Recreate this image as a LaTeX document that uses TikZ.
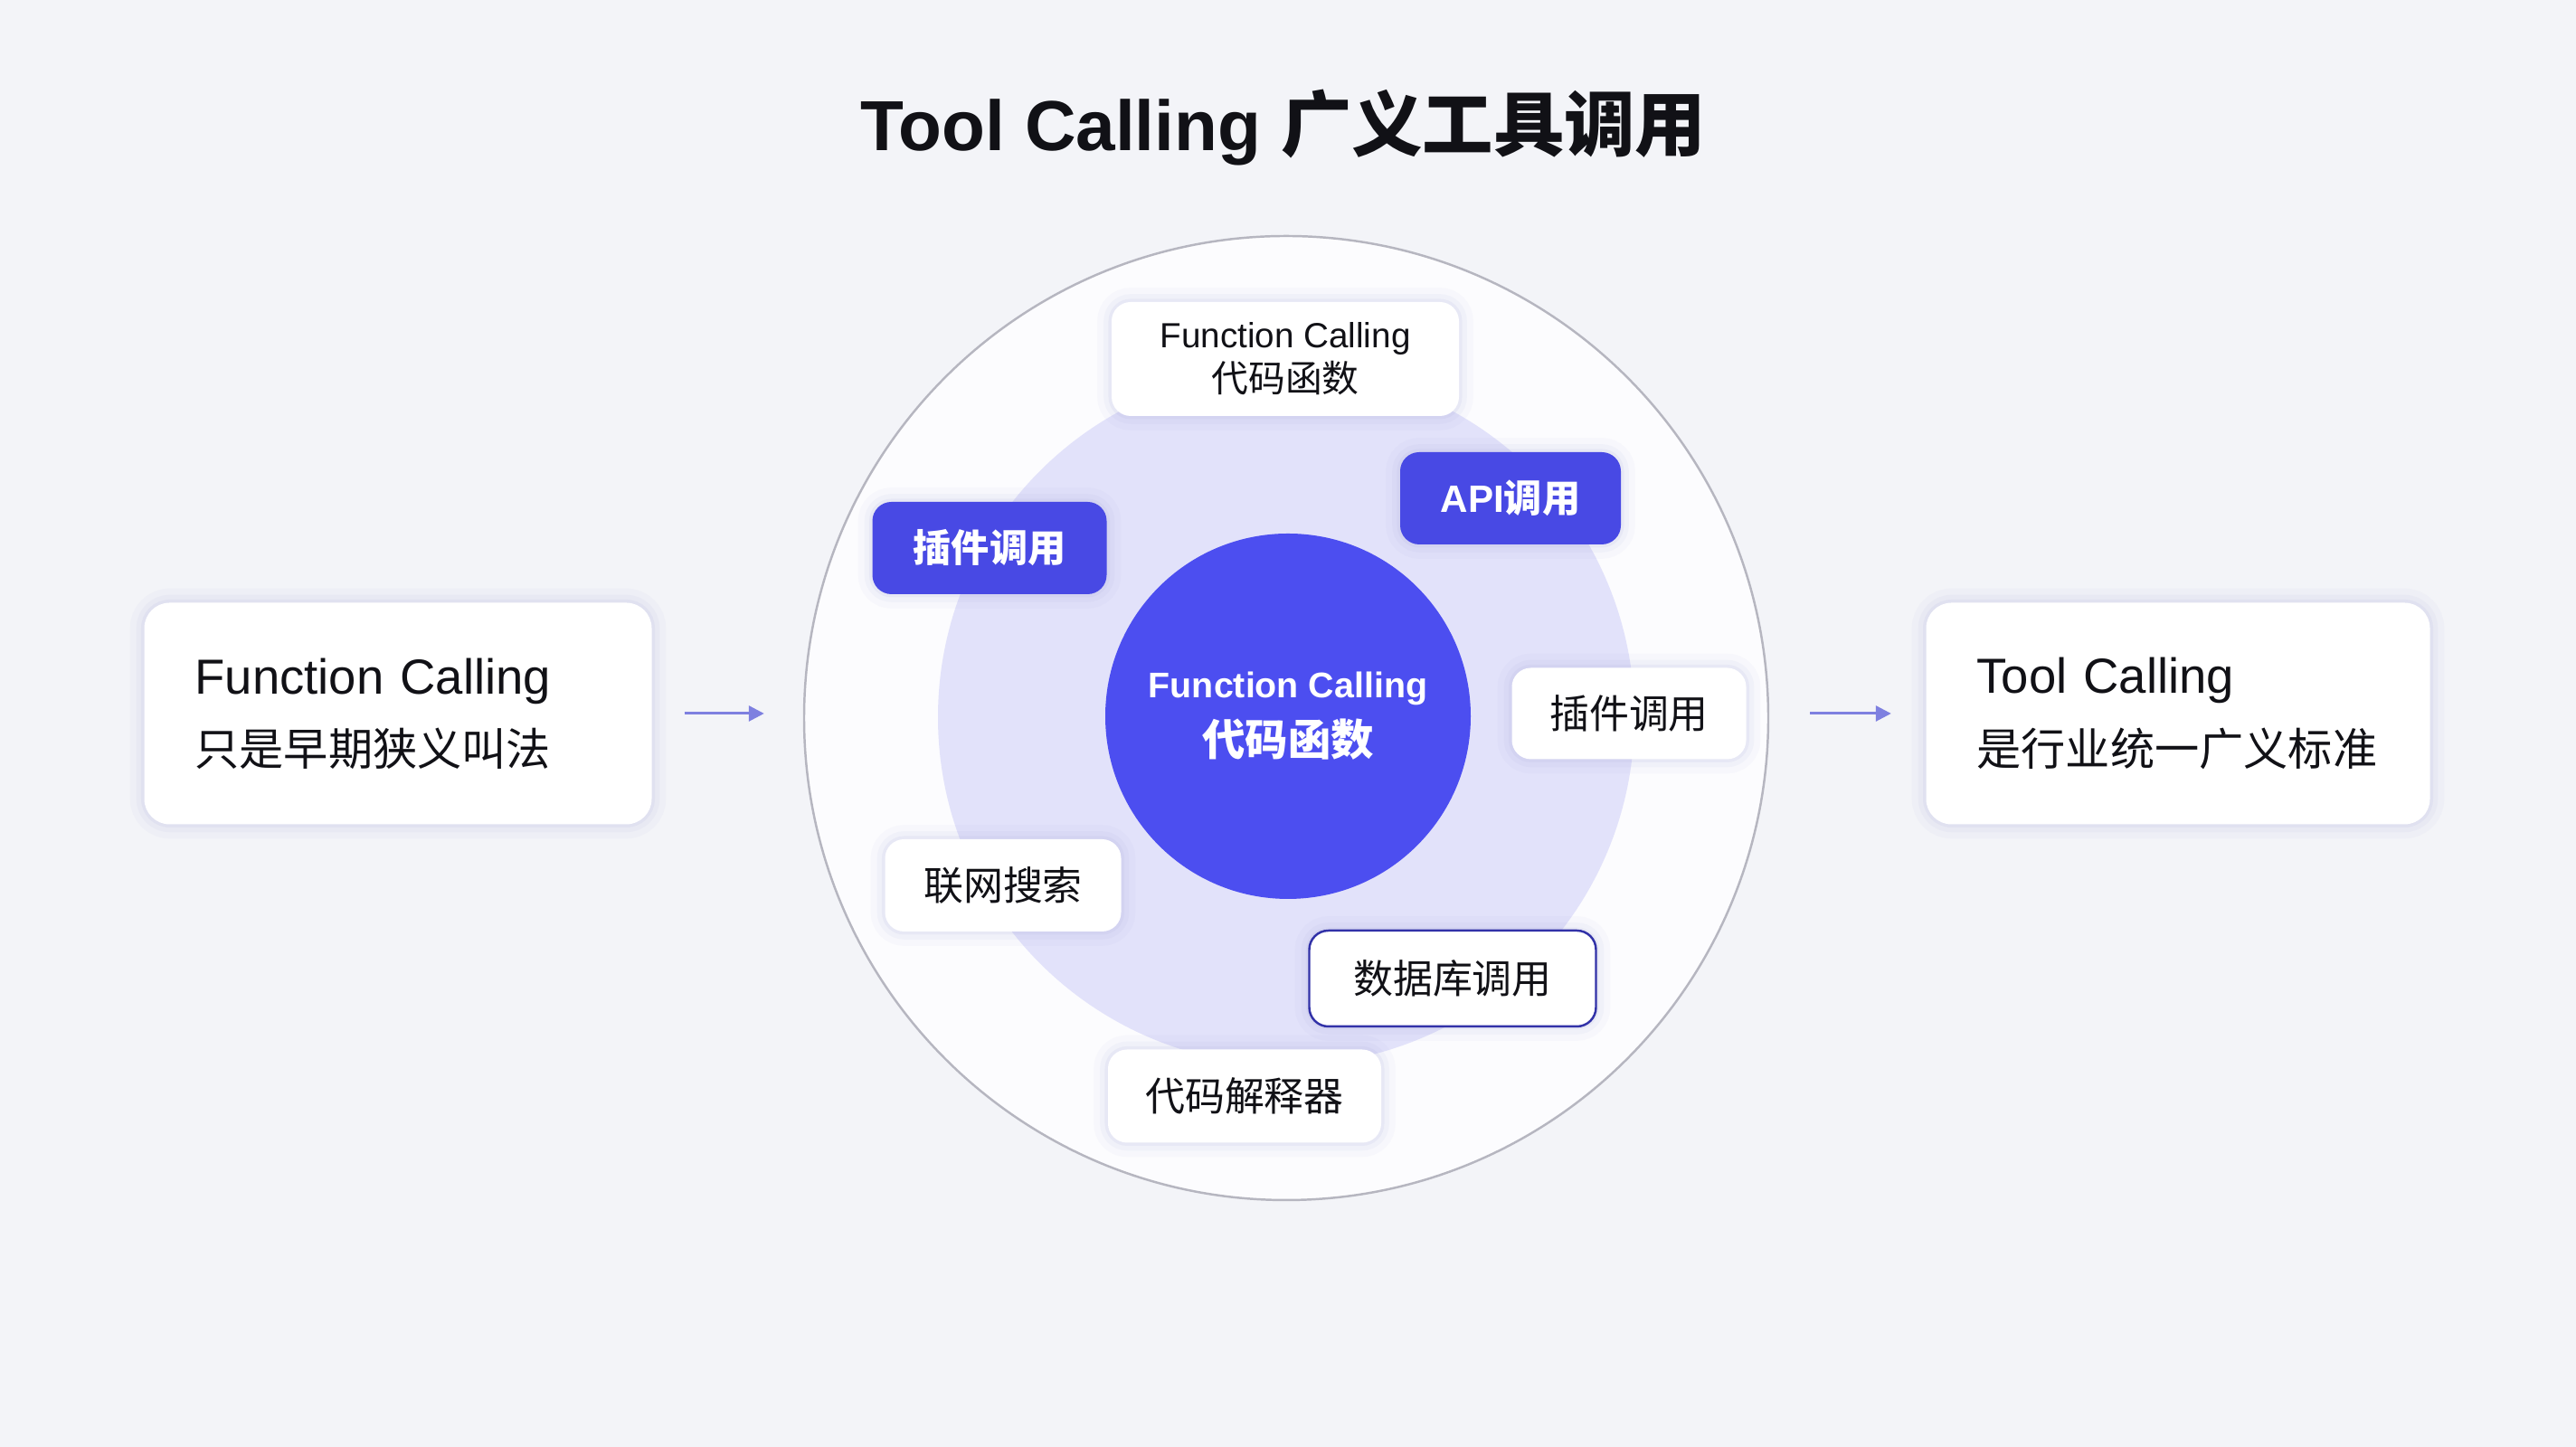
\documentclass[tikz,border=0pt]{standalone}
\usepackage{fontspec}
\setmainfont{Liberation Sans}
\newfontfamily\cjk{Noto Sans CJK SC}
\usepackage{xcolor}
\usetikzlibrary{positioning,arrows.meta}
\definecolor{ink}{RGB}{17,17,22}
\definecolor{bgpage}{RGB}{243,244,248}
\definecolor{ringfill}{RGB}{252,252,254}
\definecolor{ringline}{RGB}{182,182,192}
\definecolor{haze}{RGB}{226,226,250}
\definecolor{core}{RGB}{76,78,240}
\definecolor{pillblue}{RGB}{72,73,228}
\definecolor{rimblue}{RGB}{50,50,168}
\definecolor{arrowc}{RGB}{126,128,224}
\definecolor{shade}{RGB}{160,162,215}

\begin{document}
\begin{tikzpicture}[
  glow/.style={preaction={draw=shade, line width=9pt, opacity=.05},
    preaction={draw=shade, line width=5pt, opacity=.07},
    preaction={draw=shade, line width=2pt, opacity=.10}},
  card/.style={glow, fill=white, rounded corners=8pt, inner xsep=0pt, align=left,
    minimum height=2.45cm, text=ink, font=\fontsize{15.5}{22.5}\selectfont},
  pill/.style={glow, fill=white, rounded corners=6pt, align=center, text=ink,
    minimum height=1.02cm, font=\fontsize{12.5}{15}\selectfont},
  bluepill/.style={pill, fill=pillblue, text=white,
    font=\fontsize{12}{15}\selectfont\bfseries},
  arr/.style={-{Triangle[length=0.17cm, width=0.17cm]}, line width=0.85pt, arrowc},
]
  \useasboundingbox (0,0) rectangle (28.48,16);
  \fill[bgpage] (0,0) rectangle (28.48,16);

  \node[font=\fontsize{22.3}{26}\selectfont\bfseries, text=ink] (title) at (14.19,14.59)
    {Tool Calling {\cjk 广义工具调用}};

  \node[card, minimum width=5.61cm, text width=4.49cm] (lcard) at (4.40,8.11)
    {Function Calling\\
     {\cjk\fontsize{14}{22.5}\selectfont 只是早期狭义叫法}};
  \node[card, minimum width=5.57cm, text width=4.45cm] (rcard) at (24.08,8.11)
    {Tool Calling\\
     {\cjk\fontsize{14}{22.5}\selectfont 是行业统一广义标准}};

  \node[circle, draw=ringline, line width=0.7pt, fill=ringfill,
    minimum size=10.66cm] (ring) at (14.22,8.06) {};
  \node[circle, fill=haze, minimum size=7.7cm] (haze) at (14.22,8.07) {};
  \node[circle, fill=core, minimum size=4.04cm, text=white, align=center,
    font=\fontsize{11.2}{18.2}\selectfont\bfseries] (core) at (14.24,8.08)
    {Function Calling\\
     {\cjk\fontsize{13.5}{18.2}\selectfont\bfseries 代码函数}};

  \node[pill, minimum width=3.84cm, minimum height=1.26cm,
    font=\fontsize{11}{14}\selectfont] (fcall) at (14.21,12.03)
    {Function Calling\\
     {\cjk\fontsize{11.6}{14}\selectfont 代码函数}};
  \node[bluepill, minimum width=2.44cm] (api) at (16.70,10.49) {API{\cjk 调用}};
  \node[bluepill, minimum width=2.59cm] (plugin) at (10.94,9.94) {\cjk 插件调用};
  \node[pill, minimum width=2.59cm, minimum height=1.01cm] (plugcall) at (18.01,8.11) {\cjk 插件调用};
  \node[pill, minimum width=2.61cm] (search) at (11.09,6.21) {\cjk 联网搜索};
  \node[pill, draw=rimblue, line width=0.7pt, minimum width=3.17cm, minimum height=1.06cm]
    (dbase) at (16.06,5.18) {\cjk 数据库调用};
  \node[pill, minimum width=3.02cm, minimum height=1.03cm] (interp) at (13.76,3.88) {\cjk 代码解释器};

  \draw[arr, shorten <=0.355cm, shorten >=0.43cm] (lcard.east) -- (lcard.east -| ring.west);
  \draw[arr, shorten <=0.45cm, shorten >=0.38cm] (ring.east |- rcard.west) -- (rcard.west);
\end{tikzpicture}
\end{document}
